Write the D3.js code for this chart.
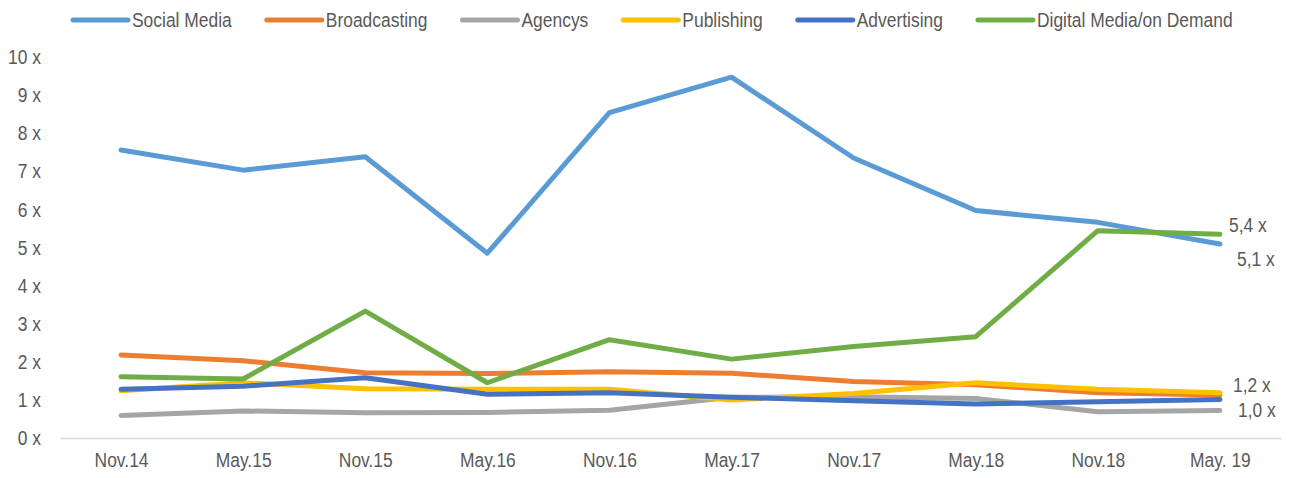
<!DOCTYPE html>
<html>
<head>
<meta charset="utf-8">
<script src="https://cdn.jsdelivr.net/npm/d3@7"></script>
<style>
  body { margin: 0; background: #fff; }
  svg text { font-family: "Liberation Sans Narrow", "Arial Narrow", "Liberation Sans", Arial, sans-serif; fill: #595959; }
</style>
</head>
<body>
<div id="chart"></div>
<script>
// periods on the x axis
let periods = ["Nov.14", "May.15", "Nov.15", "May.16", "Nov.16", "May.17", "Nov.17", "May.18", "Nov.18", "May. 19"];
let seriesNames = ["Social Media", "Broadcasting", "Agencys", "Publishing", "Advertising", "Digital Media/on Demand"];
let socialMedia = [7.56, 7.03, 7.38, 4.85, 8.54, 9.47, 7.35, 5.97, 5.66, 5.09];
let broadcasting = [2.18, 2.03, 1.71, 1.69, 1.74, 1.70, 1.48, 1.40, 1.19, 1.13];
let agencys = [0.59, 0.71, 0.66, 0.67, 0.73, 1.07, 1.08, 1.04, 0.69, 0.72];
let publishing = [1.24, 1.45, 1.29, 1.28, 1.28, 1.00, 1.17, 1.45, 1.28, 1.19];
let advertising = [1.28, 1.36, 1.58, 1.15, 1.19, 1.07, 0.98, 0.89, 0.95, 1.01];
let digitalMedia = [1.61, 1.55, 3.33, 1.45, 2.58, 2.07, 2.40, 2.66, 5.44, 5.35];
let yTicks = [0, 1, 2, 3, 4, 5, 6, 7, 8, 9, 10];
// labels on the last point
let endLabelSeries = ["Digital Media/on Demand", "Social Media", "Publishing", "Advertising"];
let endLabelTexts = ["5,4 x", "5,1 x", "1,2 x", "1,0 x"];

let conf = { width: 1290, height: 478, left: 60, right: 9, top: 57, bottom: 40 };
let colors = ["#5b9bd5", "#ed7d31", "#a5a5a5", "#ffc000", "#4472c4", "#70ad47"];
let labelOffsets = [[9, -9], [17, 15], [13, -8], [18, 10]];
let fontSize = 20.5;

// no narrow font installed, so squeeze the glyphs
function narrow(sel) {
    sel.each(function() {
        let w = this.getComputedTextLength();
        d3.select(this)
            .attr("textLength", w * 0.85)
            .attr("lengthAdjust", "spacingAndGlyphs");
    });
    return sel;
}

let allValues = [socialMedia, broadcasting, agencys, publishing, advertising, digitalMedia];
let series = seriesNames.map((name, i) => ({
    name: name,
    color: colors[i],
    values: allValues[i].map((v, j) => ({ period: periods[j], value: v }))
}));

let svg = d3.select("#chart")
    .append("svg")
    .attr("width", conf.width)
    .attr("height", conf.height);

let x = d3.scalePoint()
    .domain(periods)
    .range([conf.left, conf.width - conf.right])
    .padding(0.5);

let y = d3.scaleLinear()
    .domain([0, 10])
    .range([conf.height - conf.bottom, conf.top]);

// y labels, no grid lines
svg.append("g")
    .selectAll("text")
    .data(yTicks)
    .join("text")
    .attr("x", 41)
    .attr("y", d => y(d))
    .attr("dy", "0.35em")
    .attr("text-anchor", "end")
    .attr("font-size", fontSize)
    .text(d => d + " x")
    .call(narrow);

// x axis line + labels
let xAxis = svg.append("g")
    .attr("transform", `translate(0,${y(0)})`)
    .call(d3.axisBottom(x).tickSize(0).tickPadding(14));
xAxis.select(".domain").attr("stroke", "#d9d9d9").attr("stroke-width", 1.5);
xAxis.selectAll("text")
    .attr("font-size", fontSize)
    .attr("fill", "#595959")
    .attr("font-family", null)
    .call(narrow);

let line = d3.line()
    .x(d => x(d.period))
    .y(d => y(d.value));

svg.append("g")
    .selectAll("path")
    .data(series)
    .join("path")
    .attr("fill", "none")
    .attr("stroke", d => d.color)
    .attr("stroke-width", 5)
    .attr("stroke-linecap", "round")
    .attr("stroke-linejoin", "round")
    .attr("d", d => line(d.values));

// end labels
endLabelSeries.forEach((name, i) => {
    let s = series.find(d => d.name === name);
    let last = s.values[s.values.length - 1];
    svg.append("text")
        .attr("x", x(last.period) + labelOffsets[i][0])
        .attr("y", y(last.value) + labelOffsets[i][1])
        .attr("dy", "0.35em")
        .attr("font-size", fontSize)
        .text(endLabelTexts[i])
        .call(narrow);
});

// legend
let legend = svg.append("g").attr("transform", "translate(73,20)");
let lx = 0;
series.forEach(s => {
    legend.append("line")
        .attr("x1", lx).attr("x2", lx + 55)
        .attr("y1", 0).attr("y2", 0)
        .attr("stroke", s.color)
        .attr("stroke-width", 5)
        .attr("stroke-linecap", "round");
    let t = legend.append("text")
        .attr("x", lx + 59)
        .attr("y", 0)
        .attr("dy", "0.35em")
        .attr("font-size", fontSize)
        .text(s.name)
        .call(narrow);
    lx += 59 + t.node().getComputedTextLength() + 35;
});
</script>
</body>
</html>
